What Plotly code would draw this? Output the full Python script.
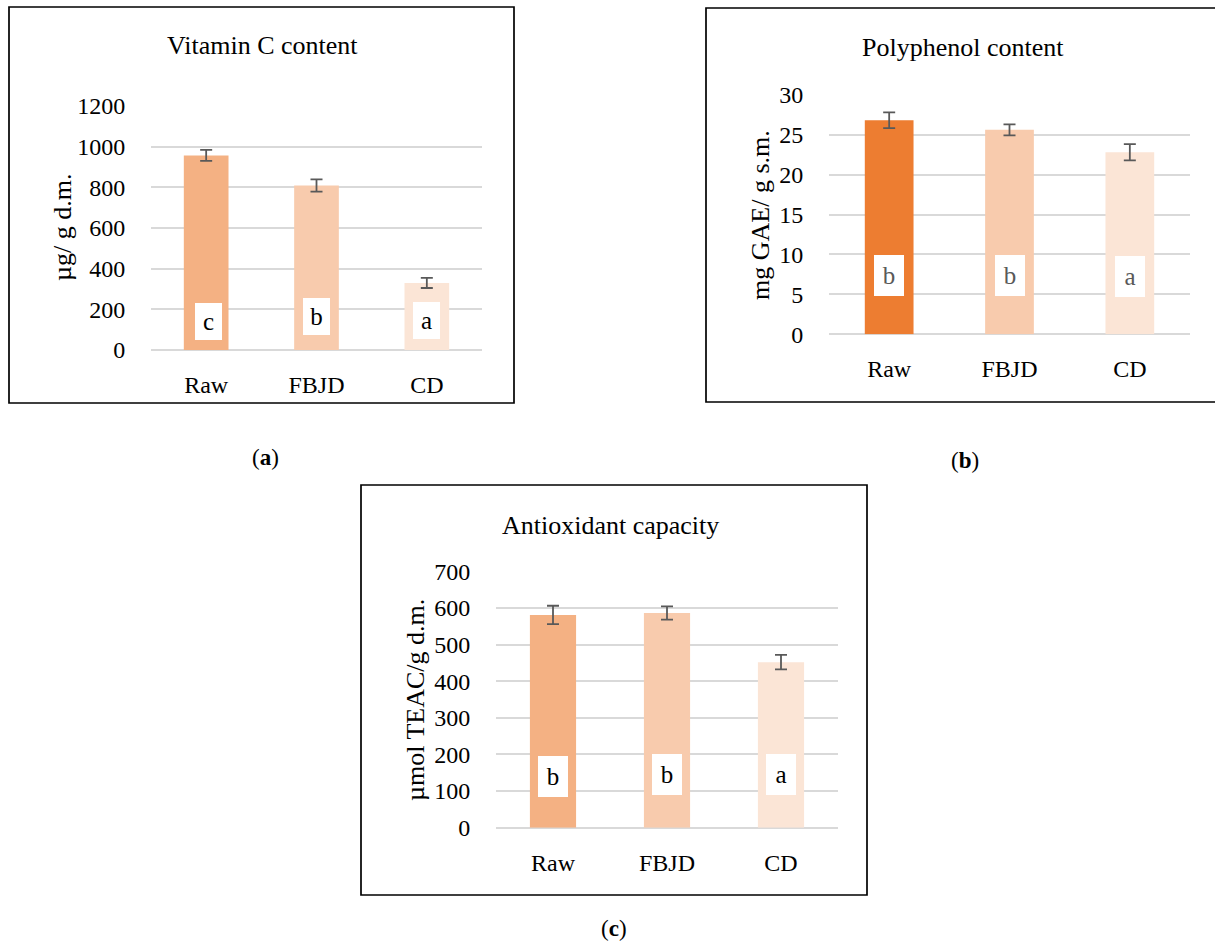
import plotly.graph_objects as go

W, H = 1215, 944

categories = ["Raw", "FBJD", "CD"]

vitc_values = [957, 809, 330]
vitc_errors = [27, 30, 25]
vitc_letters = ["c", "b", "a"]

poly_values = [26.8, 25.6, 22.8]
poly_errors = [0.98, 0.69, 1.02]
poly_letters = ["b", "b", "a"]

anti_values = [581, 586, 452]
anti_errors = [25, 18, 20]
anti_letters = ["b", "b", "a"]

vitc_ticks = [0, 200, 400, 600, 800, 1000, 1200]
poly_ticks = [0, 5, 10, 15, 20, 25, 30]
anti_ticks = [0, 100, 200, 300, 400, 500, 600, 700]

FONT = "Liberation Serif"
colors_light = ["#F4B183", "#F8CBAD", "#FBE5D6"]
colors_poly = ["#ED7D31", "#F8CBAD", "#FBE5D6"]
ERR = "#595959"
GRID = "#D9D9D9"


def px(x):
    return x / W


def py(y):
    return 1 - y / H


fig = go.Figure()

panels = [
    dict(vals=vitc_values, errs=vitc_errors, cols=colors_light, xa="x", ya="y",
         dom_x=(151, 482), dom_y=(350, 106), rng=(0, 1200), ticks=vitc_ticks,
         letters=vitc_letters, lab_y=[140, 165, 145], box=(27, 37), lab_col="#000000",
         lab_xshift=[2, 0, 0]),
    dict(vals=poly_values, errs=poly_errors, cols=colors_poly, xa="x2", ya="y2",
         dom_x=(829, 1190), dom_y=(334.3, 94.7), rng=(0, 30), ticks=poly_ticks,
         letters=poly_letters, lab_y=[7.36, 7.36, 7.24], box=(30, 41), lab_col="#595959",
         lab_xshift=[0, 0, 0]),
    dict(vals=anti_values, errs=anti_errors, cols=colors_light, xa="x3", ya="y3",
         dom_x=(496, 838), dom_y=(827.7, 571.3), rng=(0, 700), ticks=anti_ticks,
         letters=anti_letters, lab_y=[140, 145, 145], box=(30, 41), lab_col="#000000",
         lab_xshift=[0, 0, 0]),
]

annotations = []
for i, p in enumerate(panels):
    fig.add_trace(go.Bar(
        x=categories, y=p["vals"], marker=dict(color=p["cols"], line=dict(width=0)),
        error_y=dict(type="data", array=p["errs"], visible=True, color=ERR,
                     thickness=1.8, width=6),
        xaxis=p["xa"], yaxis=p["ya"], showlegend=False, hoverinfo="skip",
    ))
    sfx = "" if i == 0 else str(i + 1)
    fig.update_layout(**{
        "xaxis" + sfx: dict(
            domain=[px(p["dom_x"][0]), px(p["dom_x"][1])], anchor=p["ya"],
            showgrid=False, zeroline=False, showline=False, automargin=False,
            ticks="outside", ticklen=13, tickcolor="rgba(0,0,0,0)",
            tickfont=dict(family=FONT, size=24, color="#000000"),
            fixedrange=True,
        ),
        "yaxis" + sfx: dict(
            domain=[py(p["dom_y"][0]), py(p["dom_y"][1])], anchor=p["xa"],
            range=list(p["rng"]), tickvals=p["ticks"], automargin=False,
            showgrid=True, gridcolor=GRID, gridwidth=2,
            zeroline=True, zerolinecolor=GRID, zerolinewidth=2,
            showline=False, ticks="outside", ticklen=20,
            tickcolor="rgba(0,0,0,0)",
            tickfont=dict(family=FONT, size=24, color="#000000"),
            fixedrange=True,
        ),
    })
    for c, lt, ly, xs in zip(categories, p["letters"], p["lab_y"], p["lab_xshift"]):
        annotations.append(dict(
            x=c, y=ly, xref=p["xa"], yref=p["ya"], text=lt, showarrow=False,
            xshift=xs, bgcolor="#FFFFFF", width=p["box"][0], height=p["box"][1],
            borderpad=0, borderwidth=0, align="center", valign="middle",
            font=dict(family=FONT, size=25, color=p["lab_col"]),
        ))

# Titles
for txt, (x, y) in [("Vitamin C content", (262, 45)),
                    ("Polyphenol content", (963, 47)),
                    ("Antioxidant capacity", (610, 525))]:
    annotations.append(dict(x=px(x), y=py(y), xref="paper", yref="paper", text=txt,
                            showarrow=False, xanchor="center", yanchor="middle",
                            font=dict(family=FONT, size=26, color="#000000")))

# Y-axis titles
for txt, (x, y) in [("µg/ g d.m.", (62, 228)),
                    ("mg GAE/ g s.m.", (760, 215)),
                    ("µmol TEAC/g d.m.", (415, 700))]:
    annotations.append(dict(x=px(x), y=py(y), xref="paper", yref="paper", text=txt,
                            showarrow=False, textangle=-90, xanchor="center", yanchor="middle",
                            font=dict(family=FONT, size=26, color="#000000")))

# Captions
for txt, (x, y) in [("(<b>a</b>)", (265, 458)),
                    ("(<b>b</b>)", (965, 460)),
                    ("(<b>c</b>)", (614, 928))]:
    annotations.append(dict(x=px(x), y=py(y), xref="paper", yref="paper", text=txt,
                            showarrow=False, xanchor="center", yanchor="middle",
                            font=dict(family=FONT, size=23, color="#000000")))

shapes = []
# Panel borders
for (x0, y0, x1, y1) in [(9, 7, 514, 403), (706, 8, 1230, 402), (361, 485, 867, 895)]:
    shapes.append(dict(type="rect", xref="paper", yref="paper",
                       x0=px(x0), x1=px(x1), y0=py(y1), y1=py(y0),
                       line=dict(color="#000000", width=1.7), fillcolor="rgba(0,0,0,0)",
                       layer="above"))

fig.update_layout(
    template="none",
    width=W, height=H, margin=dict(l=0, r=0, t=0, b=0, pad=0, autoexpand=False),
    paper_bgcolor="#FFFFFF", plot_bgcolor="#FFFFFF",
    bargap=0.595, annotations=annotations, shapes=shapes,
    font=dict(family=FONT),
)

fig.write_html("out.html")
